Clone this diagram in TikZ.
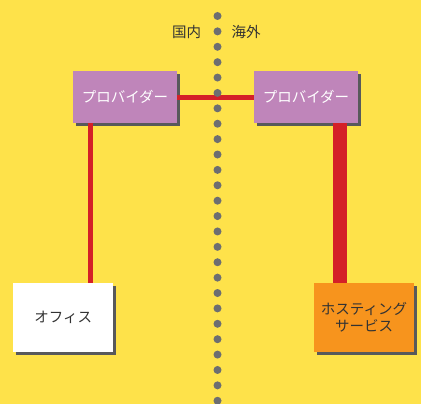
\documentclass[tikz,border=0pt]{standalone}
\usepackage{fontspec}
\setmainfont{Noto Sans CJK JP}
\usetikzlibrary{shadows}

\definecolor{bgyellow}{HTML}{FEE24A}
\definecolor{provpurple}{HTML}{BF85BA}
\definecolor{linkred}{HTML}{D42027}
\definecolor{dotgray}{HTML}{6D6E71}
\definecolor{shadowgray}{HTML}{58595B}
\definecolor{hostorange}{HTML}{F7941D}
\definecolor{textgray}{HTML}{333333}

\tikzset{
  box/.style={rectangle, inner sep=0pt,
    align=center, font=\fontsize{14.5}{17.5}\selectfont,
    general shadow={fill=shadowgray, shadow xshift=3pt, shadow yshift=-3pt}},
  provider/.style={box, minimum width=103.4pt, minimum height=51.7pt, fill=provpurple, text=white},
  site/.style={box, minimum width=100pt, minimum height=69pt, text=textgray},
  link/.style={linkred, line width=5pt},
  side/.style={text=textgray, font=\fontsize{14.5}{17.5}\selectfont}
}

\begin{document}
\begin{tikzpicture}[x=1pt,y=1pt]
\fill[bgyellow] (0,0) rectangle (421,-404);
\useasboundingbox (0,0) rectangle (421,-404);

\node[side] (domestic) at (186.7,-31.7) {国内};
\node[side] (overseas) at (246,-31.7) {海外};

\node[provider] (lprov) at (125,-96.9) {プロバイダー};
\node[provider] (rprov) at (306,-96.9) {プロバイダー};
\node[site, fill=white] (office) at (63.3,-317.2) {オフィス};
\node[site, fill=hostorange] (hosting) at (364,-317.2) {ホスティング\\サービス};

\draw[link] (lprov.east |- 0,-97.7) -- (rprov.west |- 0,-97.7);
\draw[link] (lprov.south -| 90,0) -- (office.north -| 90,0);
\draw[linkred, line width=14pt] (rprov.south -| 339.7,0) -- (hosting.north -| 339.7,0);

% dotted border
\foreach \i in {0,...,25}
  \fill[dotgray] (217.5,-16-15.39*\i) circle (4pt);
\end{tikzpicture}
\end{document}
